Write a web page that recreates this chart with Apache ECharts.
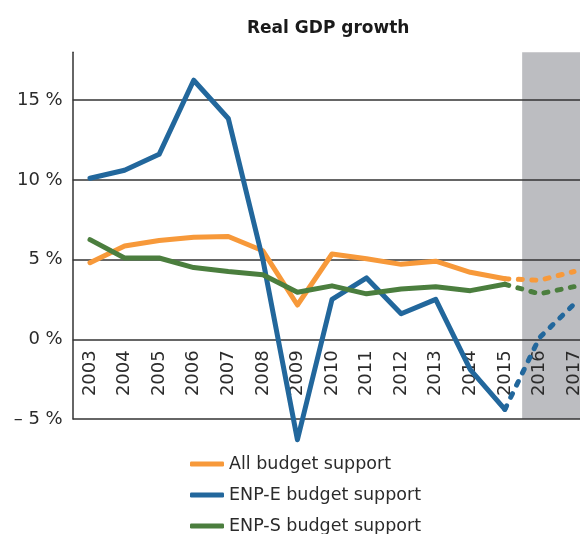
<!DOCTYPE html>
<html><head><meta charset="utf-8">
<script src="https://cdn.jsdelivr.net/npm/echarts@6/dist/echarts.min.js"></script>
<style>html,body{margin:0;padding:0;background:#fff;overflow:hidden}#c{width:592px;height:560px}</style>
</head><body><div id="c"></div>
<script>
const years = ['2003','2004','2005','2006','2007','2008','2009','2010','2011','2012','2013','2014','2015','2016','2017'];
const allBudget = [4.8, 5.85, 6.2, 6.4, 6.45, 5.55, 2.15, 5.35, 5.05, 4.7, 4.9, 4.2, 3.8, 3.7, 4.25];
const enpE = [10.1, 10.6, 11.6, 16.25, 13.85, 5.0, -6.3, 2.5, 3.85, 1.6, 2.5, -1.9, -4.4, 0.1, 2.2];
const enpS = [6.25, 5.1, 5.1, 4.5, 4.25, 4.05, 2.95, 3.35, 2.85, 3.15, 3.3, 3.05, 3.45, 2.85, 3.3];
const seriesNames = ['All budget support', 'ENP-E budget support', 'ENP-S budget support'];
const lastActualYear = '2015';
const forecastBand = [13, 15]; // band positions (in category slots) of forecast years
const yTicks = [-5, 0, 5, 10, 15];

const colors = ['#f7993a', '#22679c', '#4b7e3e'];
const cut = years.indexOf(lastActualYear);
const solid = arr => arr.map((v, i) => i <= cut ? v : null);
const dashed = arr => arr.map((v, i) => i >= cut ? v : null);
const font = 'DejaVu Sans';

const series = [];
[allBudget, enpE, enpS].forEach((arr, k) => {
  series.push({
    name: seriesNames[k], type: 'line', data: solid(arr), symbol: 'none', clip: false,
    lineStyle: { color: colors[k], width: 5, cap: 'round', join: 'round' },
    itemStyle: { color: colors[k] }, z: 3
  });
  series.push({
    name: seriesNames[k], type: 'line', data: dashed(arr), symbol: 'none', clip: false,
    lineStyle: { color: colors[k], width: 5, type: [4, 9.5], cap: 'round', join: 'round' },
    itemStyle: { color: colors[k] }, z: 3
  });
});
series.push({
  type: 'line', xAxisIndex: 1, data: [], silent: true, z: -1,
  markArea: { silent: true, z: -1, itemStyle: { color: '#bcbdc1' },
    data: [[{ xAxis: forecastBand[0] }, { xAxis: forecastBand[1] }]] }
});

const yMin = -5, yMax = 18, gridTop = 52.3, gridBottomPx = 419;
const zeroOffset = (gridBottomPx - gridTop) * (0 - yMin) / (yMax - yMin);

const chart = echarts.init(document.getElementById('c'), null, { renderer: 'canvas' });
chart.setOption({
  animation: false,
  textStyle: { fontFamily: font },
  title: {
    text: 'Real GDP growth', left: 242, top: 15,
    textStyle: { fontFamily: font, fontSize: 17, fontWeight: 'bold', color: '#1a1a1a' }
  },
  legend: {
    data: seriesNames, orient: 'vertical', left: 190, top: 455, padding: 0,
    icon: 'roundRect', itemWidth: 34, itemHeight: 5, itemGap: 13,
    textStyle: { fontFamily: font, fontSize: 17.5, color: '#2b2b2b', lineHeight: 18 }
  },
  grid: { left: 72.7, right: 0.7, top: gridTop, bottom: 560 - gridBottomPx },
  xAxis: [{
    type: 'category', data: years, boundaryGap: true, position: 'bottom', offset: -zeroOffset,
    axisLine: { show: false, onZero: false }, axisTick: { show: false },
    axisLabel: { rotate: 90, margin: 11, fontFamily: font, fontSize: 18, color: '#2b2b2b', interval: 0 }
  }, {
    type: 'value', min: 0, max: 15, show: false
  }],
  yAxis: {
    type: 'value', min: yMin, max: yMax, interval: 5,
    axisLine: { show: true, lineStyle: { color: '#333', width: 1.5 } },
    axisTick: { show: false },
    splitLine: { show: true, showMaxLine: false, lineStyle: { color: '#333', width: 1.5 } },
    axisLabel: {
      margin: 10, fontFamily: font, fontSize: 18, color: '#2b2b2b', showMaxLabel: false,
      formatter: v => yTicks.indexOf(v) < 0 ? '' : (v < 0 ? '– ' + Math.abs(v) + ' %' : v + ' %')
    }
  },
  series: series
});
</script></body></html>
